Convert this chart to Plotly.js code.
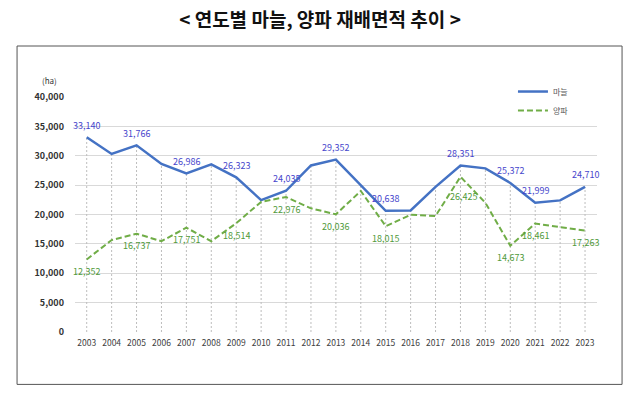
<!DOCTYPE html>
<html>
<head>
<meta charset="utf-8">
<script src="https://cdn.plot.ly/plotly-3.0.1.min.js"></script>
<style>
  html, body { margin: 0; padding: 0; background: #ffffff; }
  #chart { width: 640px; height: 401px; }
</style>
</head>
<body>
<div id="chart"></div>
<script>
// ---- data ----
const years = [2003, 2004, 2005, 2006, 2007, 2008, 2009, 2010, 2011, 2012, 2013,
               2014, 2015, 2016, 2017, 2018, 2019, 2020, 2021, 2022, 2023];
const garlic = [33140, 30300, 31766, 28600, 26986, 28550, 26323, 22450, 24035, 28350, 29352,
                25000, 20638, 20700, 24700, 28351, 27850, 25372, 21999, 22400, 24710];
const onion  = [12352, 15650, 16737, 15450, 17751, 15450, 18514, 22150, 22976, 21050, 20036,
                24000, 18015, 19950, 19750, 26425, 22000, 14673, 18461, 17800, 17263];
const labeledYears = [2003, 2005, 2007, 2009, 2011, 2013, 2015, 2018, 2020, 2021, 2023];
const seriesNames = ['마늘', '양파'];
const yTicks = [0, 5000, 10000, 15000, 20000, 25000, 30000, 35000, 40000];
const titleText = '&lt; 연도별 마늘, 양파 재배면적 추이 &gt;';
const unitText = '(ha)';

// ---- styles ----
const FONT = 'Noto Sans CJK KR, Noto Sans, sans-serif';
const blue = '#4472C4';
const green = '#70AD47';
const blueText = '#4646cc';
const greenText = '#4f9a3a';

const fmt = v => v.toLocaleString('en-US');

// drop lines from 0 up to the higher of the two series
const dropX = [], dropY = [];
years.forEach((yr, i) => {
  dropX.push(yr, yr, null);
  dropY.push(0, Math.max(garlic[i], onion[i]), null);
});

const traces = [
  {
    x: dropX, y: dropY, type: 'scatter', mode: 'lines',
    line: { color: '#bdbdbd', width: 1, dash: '2px,2px' },
    hoverinfo: 'skip', showlegend: false
  },
  {
    x: years, y: garlic, type: 'scatter', mode: 'lines', name: seriesNames[0],
    line: { color: blue, width: 2.5 }
  },
  {
    x: years, y: onion, type: 'scatter', mode: 'lines', name: seriesNames[1],
    line: { color: green, width: 2, dash: '6px,3px' }
  }
];

const annotations = [];
labeledYears.forEach(yr => {
  const i = years.indexOf(yr);
  annotations.push({
    x: yr, y: garlic[i], xref: 'x', yref: 'y', text: fmt(garlic[i]),
    showarrow: false, yshift: 12, yanchor: 'middle',
    font: { family: FONT, size: 9, color: blueText }
  });
  annotations.push({
    x: yr, y: onion[i], xref: 'x', yref: 'y', text: fmt(onion[i]),
    showarrow: false, yshift: (yr === 2018 ? -20 : -12), xshift: (yr === 2018 ? 3 : 0),
    yanchor: 'middle',
    font: { family: FONT, size: 9, color: greenText }
  });
});
annotations.push({
  x: -0.048, y: 1.072, xref: 'paper', yref: 'paper', text: unitText,
  showarrow: false, xanchor: 'center', yanchor: 'middle',
  font: { family: FONT, size: 8, color: '#333333' }
});

const layout = {
  width: 640, height: 401,
  margin: { l: 75, r: 43, t: 97, b: 69, pad: 0 },
  paper_bgcolor: '#ffffff', plot_bgcolor: '#ffffff',
  title: {
    text: '<b>' + titleText + '</b>',
    x: 0.5, xref: 'container', xanchor: 'center',
    y: 1 - 20 / 401, yref: 'container', yanchor: 'middle',
    font: { family: FONT, size: 19, color: '#111111' }
  },
  xaxis: {
    type: 'linear', range: [2002.53, 2023.48],
    tickmode: 'array', tickvals: years, ticktext: years.map(String),
    showgrid: false, zeroline: false, showline: false, ticks: '',
    tickfont: { family: FONT, size: 8.5, color: '#404040' },
    ticklabelstandoff: 4, fixedrange: true
  },
  yaxis: {
    range: [0, 40000], tickmode: 'array', tickvals: yTicks,
    ticktext: yTicks.map(v => '<b>' + fmt(v) + '</b>'),
    showgrid: true, gridcolor: '#d9d9d9', gridwidth: 1,
    zeroline: false, showline: false, ticks: '',
    tickfont: { family: FONT, size: 9, color: '#333333' },
    ticklabelstandoff: 10, fixedrange: true
  },
  showlegend: true,
  legend: {
    x: 0.839, xanchor: 'left', y: 1.085, yanchor: 'top',
    bgcolor: 'rgba(0,0,0,0)', borderwidth: 0,
    font: { family: FONT, size: 8, color: '#595959' },
    itemwidth: 30, tracegroupgap: 0
  },
  shapes: [{
    type: 'rect', xref: 'paper', yref: 'paper',
    x0: -0.111, x1: 1.048, y0: -0.223, y1: 1.217,
    line: { color: '#555555', width: 1 }, fillcolor: 'rgba(0,0,0,0)', layer: 'below'
  }],
  annotations: annotations
};

Plotly.newPlot('chart', traces, layout, { displayModeBar: false, staticPlot: true });
</script>
</body>
</html>
